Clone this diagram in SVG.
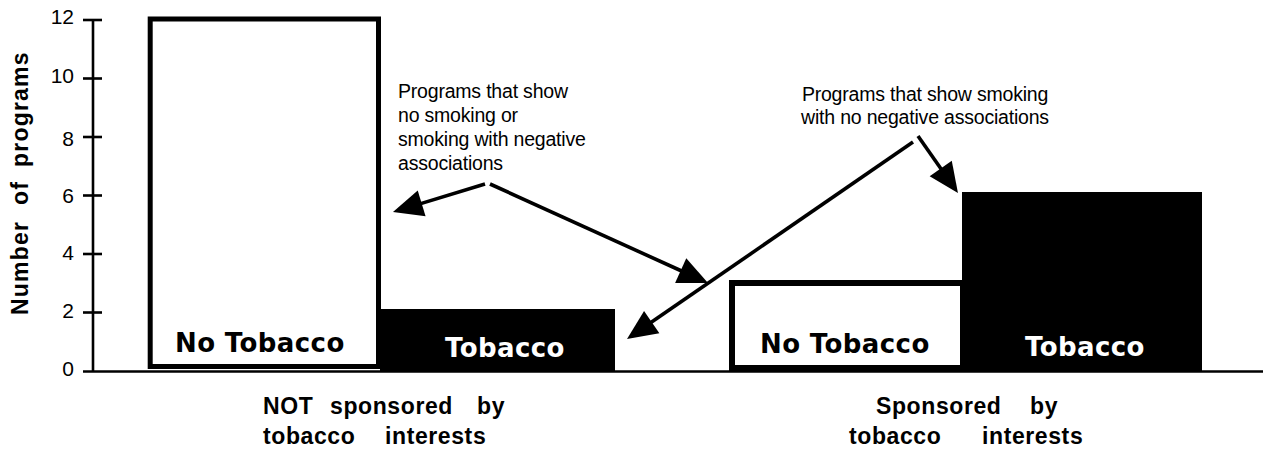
<svg xmlns="http://www.w3.org/2000/svg" width="1263" height="454" viewBox="0 0 1263 454">
<style>
.tick{font-family:"Liberation Sans",Arial,sans-serif;font-size:21px;fill:#000;text-anchor:end}
.cap{font-family:"Liberation Sans",Arial,sans-serif;font-size:23px;font-weight:bold;fill:#000;letter-spacing:0.6px}
.ylab{font-family:"Liberation Sans",Arial,sans-serif;font-size:23px;font-weight:bold;fill:#000;letter-spacing:1.2px}
.ann{font-family:"Liberation Sans",Arial,sans-serif;font-size:19.5px;fill:#000;letter-spacing:-0.2px}
.bl{font-family:"DejaVu Sans",sans-serif;font-size:26px;font-weight:bold;letter-spacing:0.4px}
.ax{stroke:#000;stroke-width:2.6;fill:none}
.arr{stroke:#000;stroke-width:3.6;fill:none;marker-end:url(#head)}
</style>
<defs>
<marker id="head" markerUnits="userSpaceOnUse" markerWidth="30" markerHeight="28" refX="0" refY="13.5" orient="auto" overflow="visible">
<path d="M-1,0 L29,13.5 L-1,27 Z" fill="#000"/>
</marker>
</defs>
<rect width="1263" height="454" fill="#fff"/>

<g id="axis">
<line class="ax" x1="93" y1="20" x2="93" y2="371"/>
<line class="ax" x1="83" y1="371.5" x2="1263" y2="371.5"/>
<line class="ax" x1="83" y1="20" x2="102" y2="20" stroke-width="3.4"/>
<line class="ax" x1="83" y1="78.5" x2="102" y2="78.5"/>
<line class="ax" x1="83" y1="137" x2="102" y2="137"/>
<line class="ax" x1="83" y1="195.5" x2="102" y2="195.5"/>
<line class="ax" x1="83" y1="254" x2="102" y2="254"/>
<line class="ax" x1="83" y1="312.5" x2="102" y2="312.5"/>
<text class="tick" x="74" y="24">12</text>
<text class="tick" x="74" y="83">10</text>
<text class="tick" x="74" y="146">8</text>
<text class="tick" x="74" y="203">6</text>
<text class="tick" x="74" y="260">4</text>
<text class="tick" x="74" y="318">2</text>
<text class="tick" x="74" y="376">0</text>
<text class="ylab" transform="translate(28,315) rotate(-90)"><tspan x="0">Number</tspan><tspan x="110">of</tspan><tspan x="148">programs</tspan></text>
</g>

<g id="bar-not-sponsored-no-tobacco">
<rect x="150.2" y="19" width="228.3" height="347.5" fill="#fff" stroke="#000" stroke-width="5"/>
<text class="bl" x="175" y="352" fill="#000">No Tobacco</text>
</g>

<g id="bar-not-sponsored-tobacco">
<rect x="380" y="309" width="235" height="62" fill="#000"/>
<text class="bl" x="445" y="357" fill="#fff" letter-spacing="1.2">Tobacco</text>
</g>

<g id="bar-sponsored-no-tobacco">
<rect x="732" y="283" width="231" height="85" fill="#fff" stroke="#000" stroke-width="6"/>
<text class="bl" x="760" y="353" fill="#000">No Tobacco</text>
</g>

<g id="bar-sponsored-tobacco">
<rect x="962" y="192" width="240" height="179" fill="#000"/>
<text class="bl" x="1025" y="356" fill="#fff" letter-spacing="1.2">Tobacco</text>
</g>

<g id="caption-not-sponsored">
<text class="cap" y="414"><tspan x="263">NOT</tspan><tspan x="330">sponsored</tspan><tspan x="477">by</tspan></text>
<text class="cap" y="444"><tspan x="263">tobacco</tspan><tspan x="385">interests</tspan></text>
</g>

<g id="caption-sponsored">
<text class="cap" y="414"><tspan x="876">Sponsored</tspan><tspan x="1030">by</tspan></text>
<text class="cap" y="444"><tspan x="849">tobacco</tspan><tspan x="982">interests</tspan></text>
</g>

<g id="note-no-negative-smoking">
<text class="ann" x="398" y="98">Programs that show</text>
<text class="ann" x="398" y="122">no smoking or</text>
<text class="ann" x="398" y="146">smoking with negative</text>
<text class="ann" x="398" y="170">associations</text>
</g>

<g id="note-smoking-no-negative">
<text class="ann" x="925" y="101" text-anchor="middle">Programs that show smoking</text>
<text class="ann" x="925" y="124" text-anchor="middle">with no negative associations</text>
</g>

<g id="connectors">
<line class="arr" x1="485" y1="184" x2="420.7" y2="203.6"/>
<line class="arr" x1="490" y1="184" x2="681.6" y2="271"/>
<line class="arr" x1="913" y1="142" x2="650.9" y2="322.6"/>
<line class="arr" x1="918" y1="136" x2="941.3" y2="169.2"/>
</g>
</svg>
